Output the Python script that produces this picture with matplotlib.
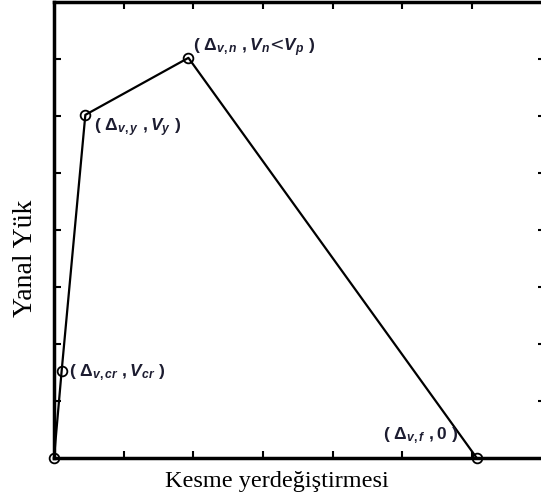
import matplotlib.pyplot as plt

# Curve points (shear displacement, lateral load)
disp = [0.0, 0.11, 0.45, 1.93, 6.07]
load = [0.0, 1.53, 6.02, 7.02, 0.0]
labels = [r'$(\ \Delta_{v,cr}\ ,V_{cr}\ )$',
          r'$(\ \Delta_{v,y}\ ,V_{y}\ )$',
          r'$(\ \Delta_{v,n}\ ,V_{n}$<$V_{p}\ )$',
          r'$(\ \Delta_{v,f}\ ,0\ )$']

plt.rcParams['mathtext.fontset'] = 'custom'
plt.rcParams['mathtext.rm'] = 'Liberation Sans:bold'
plt.rcParams['mathtext.it'] = 'Liberation Sans:italic:bold'

fig = plt.figure(figsize=(5.41, 4.99), dpi=100)
ax = fig.add_axes([54/541, 41/499, 491/541, 456/499])

ax.plot(disp, load, color='black', lw=1.6, marker='o', ms=7,
        mfc='none', mec='black', mew=1.3, clip_on=False, zorder=3)

txt = dict(fontsize=12.5, color='#1c1c30')
ax.text(0.22, 1.49, labels[0], ha='left', va='center', **txt)
ax.text(0.58, 5.79, labels[1], ha='left', va='center', **txt)
ax.text(2.0, 7.2, labels[2], ha='left', va='center', **txt)
ax.text(5.8, 0.40, labels[3], ha='right', va='center', **txt)

ax.set_xlim(0, 7.05)
ax.set_ylim(0, 8)
ax.set_xticks([1, 2, 3, 4, 5, 6])
ax.set_yticks([1, 2, 3, 4, 5, 6, 7])
ax.tick_params(direction='in', top=True, right=True, length=5, width=1.5,
               labelbottom=False, labelleft=False)
for s in ax.spines.values():
    s.set_linewidth(2.5)

fig.text(277/541, 1 - 487/499, 'Kesme yerdeğiştirmesi', family='Liberation Serif',
         fontsize=17.5, ha='center', va='baseline')
fig.text(32/541, 1 - 258/499, 'Yanal Yük', family='Liberation Serif', fontsize=20,
         rotation=90, rotation_mode='anchor', ha='center', va='baseline')

fig.savefig('out.png', dpi=100)
